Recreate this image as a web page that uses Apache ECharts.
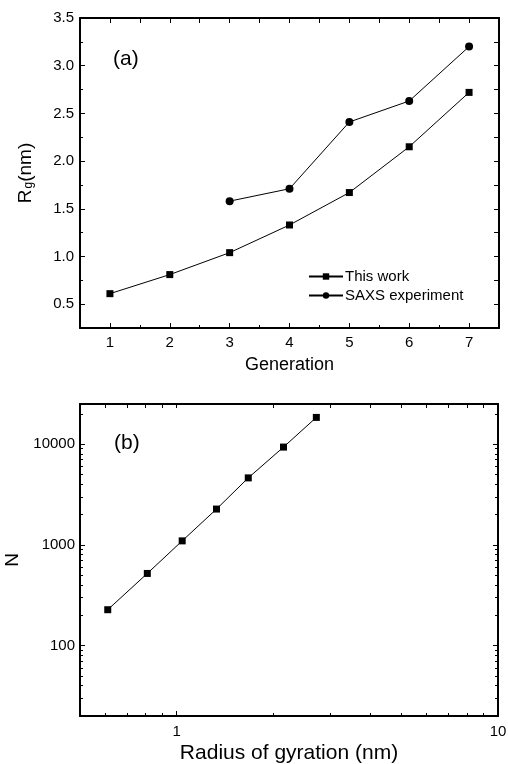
<!DOCTYPE html>
<html>
<head>
<meta charset="utf-8">
<script src="https://cdn.jsdelivr.net/npm/echarts@6/dist/echarts.min.js"></script>
<style>
  html, body { margin: 0; padding: 0; background: #fff; }
  #chart { width: 508px; height: 764px; }
</style>
</head>
<body>
<div id="chart"></div>
<script>
// Panel (a): radius of gyration per dendrimer generation
const generations = [1, 2, 3, 4, 5, 6, 7];
const rgThisWork = [0.61, 0.81, 1.04, 1.33, 1.67, 2.15, 2.72];
const saxsGenerations = [3, 4, 5, 6, 7];
const rgSaxs = [1.58, 1.71, 2.41, 2.63, 3.20];

// Panel (b): number of atoms against radius of gyration (log-log)
const radiusOfGyration = [0.61, 0.81, 1.04, 1.33, 1.67, 2.15, 2.72];
const atomCount = [227, 520, 1095, 2265, 4620, 9340, 18400];

// Tick values
const genMajor = [1, 2, 3, 4, 5, 6, 7];
const genMinor = [1.5, 2.5, 3.5, 4.5, 5.5, 6.5];
const genTop = [1, 1.5, 2, 2.5, 3, 3.5, 4, 4.5, 5, 5.5, 6, 6.5, 7];
const rgMajor = [0.5, 1.0, 1.5, 2.0, 2.5, 3.0, 3.5];
const rgMinor = [0.75, 1.25, 1.75, 2.25, 2.75, 3.25];
const radiusMajor = [1, 10];
const radiusMinor = [0.6, 0.7, 0.8, 0.9, 2, 3, 4, 5, 6, 7, 8, 9];
const countMajor = [100, 1000, 10000];
const countMinor = [20, 30, 40, 50, 60, 70, 80, 90,
  200, 300, 400, 500, 600, 700, 800, 900,
  2000, 3000, 4000, 5000, 6000, 7000, 8000, 9000, 20000];

const FONT = '"Liberation Sans", Arial, sans-serif';
const INK = '#000';

// One axis carrying only a set of tick marks (optionally with labels and the frame line)
function axis(gridIndex, position, type, min, max, ticks, tickLen, extra) {
  const a = {
    gridIndex: gridIndex,
    type: type,
    position: position,
    min: min,
    max: max,
    axisLine: { show: false, onZero: false, lineStyle: { color: INK, width: 2 } },
    axisTick: { show: true, inside: true, length: tickLen, customValues: ticks,
      lineStyle: { color: INK, width: 1 } },
    axisLabel: { show: false },
    splitLine: { show: false },
    minorTick: { show: false },
    axisPointer: { show: false }
  };
  if (type === 'log') a.logBase = 10;
  return Object.assign(a, extra || {});
}

function frameLine() {
  return { show: true, onZero: false, lineStyle: { color: INK, width: 2 } };
}

function labels(values, margin, fmt) {
  return { show: true, customValues: values, color: INK, fontSize: 15,
    fontFamily: FONT, margin: margin, formatter: fmt };
}

function plain(v) { return String(Math.round(v)); }

const xAxes = [
  // panel (a)
  axis(0, 'bottom', 'value', 0.5, 7.5, genMajor, 5, {
    axisLine: frameLine(),
    axisLabel: labels(genMajor, 7, plain),
    name: 'Generation', nameLocation: 'middle', nameGap: 28,
    nameTextStyle: { color: INK, fontSize: 18, fontFamily: FONT }
  }),
  axis(0, 'bottom', 'value', 0.5, 7.5, genMinor, 3),
  axis(0, 'top', 'value', 0.5, 7.5, genTop, 5, { axisLine: frameLine() }),
  // panel (b)
  axis(1, 'bottom', 'log', 0.5, 10, radiusMajor, 5, {
    axisLine: frameLine(),
    axisLabel: labels(radiusMajor, 8, plain),
    name: 'Radius of gyration (nm)', nameLocation: 'middle', nameGap: 27,
    nameTextStyle: { color: INK, fontSize: 21, fontFamily: FONT }
  }),
  axis(1, 'bottom', 'log', 0.5, 10, radiusMinor, 3),
  axis(1, 'top', 'log', 0.5, 10, radiusMajor.concat(radiusMinor), 4, { axisLine: frameLine() })
];

const yAxes = [
  // panel (a)
  axis(0, 'left', 'value', 0.25, 3.5, rgMajor, 5, {
    axisLine: frameLine(),
    axisLabel: labels(rgMajor, 6, function (v) { return v.toFixed(1); }),
    name: '{r|R}{s|g}{r|(nm)}', nameLocation: 'middle', nameGap: 45,
    nameTextStyle: {
      color: INK, fontFamily: FONT,
      rich: {
        r: { fontSize: 19, fontFamily: FONT, color: INK, lineHeight: 24, verticalAlign: 'bottom' },
        s: { fontSize: 12, fontFamily: FONT, color: INK, lineHeight: 10, verticalAlign: 'bottom', padding: [0, 0, 0, 1] }
      }
    }
  }),
  axis(0, 'left', 'value', 0.25, 3.5, rgMinor, 3),
  axis(0, 'right', 'value', 0.25, 3.5, rgMajor.concat(rgMinor), 5, { axisLine: frameLine() }),
  // panel (b)
  axis(1, 'left', 'log', 20, 25000, countMajor, 5, {
    axisLine: frameLine(),
    axisLabel: labels(countMajor, 5, plain),
    name: 'N', nameLocation: 'middle', nameGap: 51,
    nameTextStyle: { color: INK, fontSize: 19, fontFamily: FONT }
  }),
  axis(1, 'left', 'log', 20, 25000, countMinor, 3),
  axis(1, 'right', 'log', 20, 25000, countMajor, 5, { axisLine: frameLine() }),
  axis(1, 'right', 'log', 20, 25000, countMinor, 3)
];

const thisWorkData = generations.map(function (g, i) { return [g, rgThisWork[i]]; });
const saxsData = saxsGenerations.map(function (g, i) { return [g, rgSaxs[i]]; });
const scalingData = radiusOfGyration.map(function (r, i) { return [r, atomCount[i]]; });

const lineBase = {
  type: 'line',
  lineStyle: { color: INK, width: 1 },
  itemStyle: { color: INK },
  showAllSymbol: true,
  animation: false,
  z: 5
};

const option = {
  animation: false,
  backgroundColor: '#fff',
  textStyle: { fontFamily: FONT },
  grid: [
    { left: 80, top: 18, right: 9, height: 310, outerBoundsMode: 'none', containLabel: false },
    { left: 80, top: 404, right: 10, height: 312, outerBoundsMode: 'none', containLabel: false }
  ],
  xAxis: xAxes,
  yAxis: yAxes,
  title: [
    { text: '(a)', left: 108, top: 44, textStyle: { fontSize: 21, fontWeight: 'normal', color: INK, fontFamily: FONT } },
    { text: '(b)', left: 109, top: 428, textStyle: { fontSize: 21, fontWeight: 'normal', color: INK, fontFamily: FONT } }
  ],
  legend: {
    data: ['This work', 'SAXS experiment'],
    orient: 'vertical',
    left: 303,
    top: 264,
    itemWidth: 34,
    itemHeight: 8,
    itemGap: 4,
    textStyle: { fontSize: 15, color: INK, fontFamily: FONT, padding: [0, 0, 0, -3] }
  },
  series: [
    Object.assign({}, lineBase, {
      name: 'This work', xAxisIndex: 0, yAxisIndex: 0,
      symbol: 'rect', symbolSize: 7, data: thisWorkData
    }),
    Object.assign({}, lineBase, {
      name: 'SAXS experiment', xAxisIndex: 0, yAxisIndex: 0,
      symbol: 'circle', symbolSize: 8, data: saxsData
    }),
    Object.assign({}, lineBase, {
      name: 'N vs Rg', xAxisIndex: 3, yAxisIndex: 3,
      symbol: 'rect', symbolSize: 7, data: scalingData
    })
  ]
};

const chart = echarts.init(document.getElementById('chart'), null, { renderer: 'canvas' });
chart.setOption(option);
</script>
</body>
</html>
